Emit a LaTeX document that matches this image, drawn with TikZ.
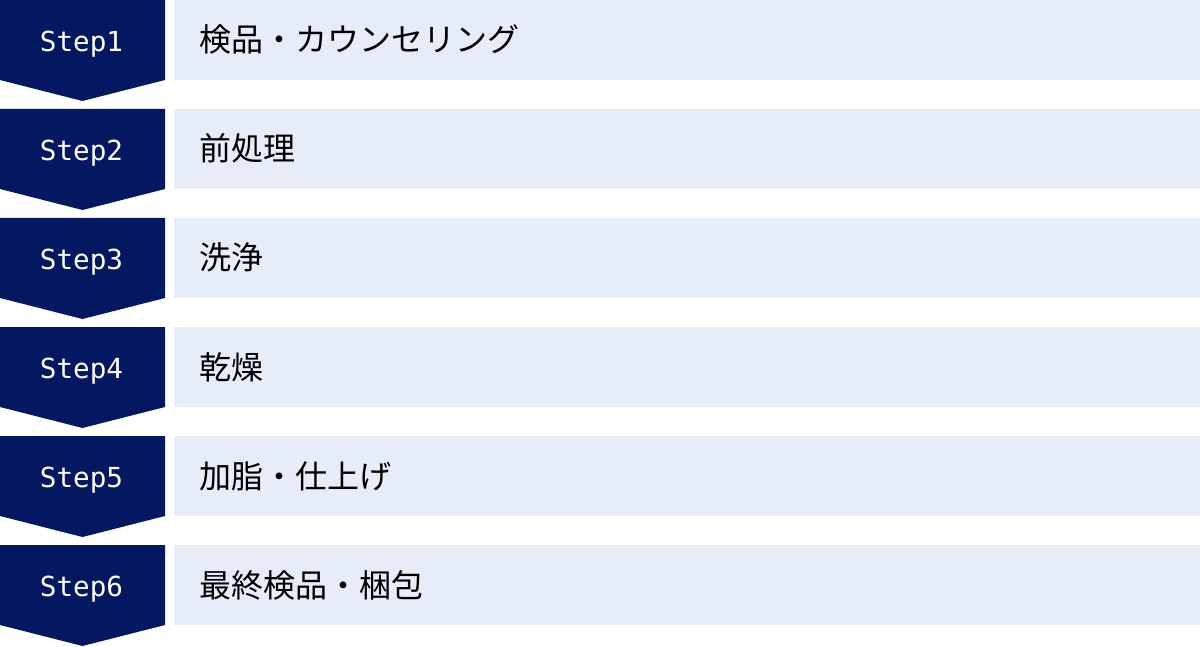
\documentclass[tikz,border=0pt]{standalone}
\usepackage{fontspec}
\setmainfont{Noto Sans CJK JP}
\newfontfamily\stepfont{DejaVu Sans Mono}
\usetikzlibrary{positioning}
\definecolor{stepblue}{HTML}{041862}
\definecolor{rowfill}{HTML}{E6ECF8}
\tikzset{
    stepshape/.style={fill=stepblue},
    rowshape/.style={fill=rowfill},
    steplabel/.style={inner sep=0pt, anchor=base, text=white, font=\stepfont\fontsize{27.6}{28}\selectfont},
    rowlabel/.style={inner sep=0pt, anchor=base west, text=black, font=\fontsize{32}{32}\selectfont}
}
\begin{document}
\begin{tikzpicture}[x=1pt, y=-1pt]
    \useasboundingbox (0, 0) rectangle (1200, 647);
    \foreach \i/\txt in {1/検品・カウンセリング, 2/前処理, 3/洗浄, 4/乾燥, 5/加脂・仕上げ, 6/最終検品・梱包} {
        \pgfmathsetmacro\top{(\i - 1) * 109}
        % chevron and row band
        \fill[stepshape] (0, \top) -- (165, \top) -- (165, \top + 80) -- (82.5, \top + 101) -- (0, \top + 80) -- cycle;
        \fill[rowshape] (174, \top) rectangle (1200, \top + 80);
        \node[steplabel] (step\i) at (81.5, \top + 51.7) {Step\i};
        \node[rowlabel] (row\i) at (199, \top + 52) {\txt};
    }
\end{tikzpicture}
\end{document}
